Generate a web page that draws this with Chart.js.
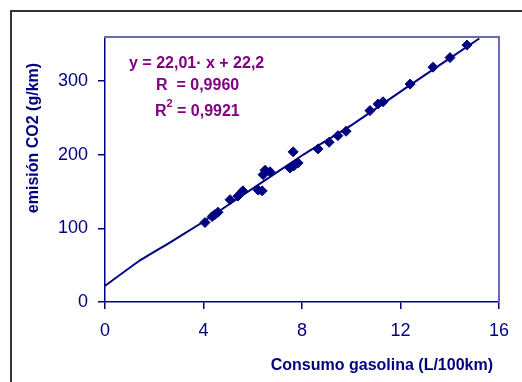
<!DOCTYPE html>
<html>
<head>
<meta charset="utf-8">
<script src="https://cdn.jsdelivr.net/npm/chart.js@4"></script>
<style>
  html, body { margin: 0; padding: 0; background: #fff; }
  #wrap { position: relative; width: 522px; height: 382px; }
  #frame { position: absolute; border-top: 2px solid #6a6ab4; border-right: 2px solid #6a6ab4; box-sizing: border-box; pointer-events: none; }
</style>
</head>
<body>
<div id="wrap"><canvas id="chart" width="522" height="382"></canvas><div id="frame"></div></div>
<script>
const consumo = [4.06, 4.35, 4.47, 4.59, 5.08, 5.40, 5.52, 5.60, 6.22, 6.38, 6.42, 6.50, 6.70,
  7.51, 7.67, 7.84, 7.64, 8.65, 9.10, 9.46, 9.79, 10.76, 11.09, 11.29, 12.39, 13.32, 14.01, 14.70]
const emision = [108, 116, 119, 122, 139, 144, 148, 151, 152, 151, 173, 179, 177,
  182, 185, 189, 204, 208, 217, 226, 232, 260, 269, 272, 296, 319, 332, 349]

// trend line
const ajusteX = [0, 1.4, 2.6, 3.9, 5.5, 8, 10, 12.4, 15.2]
const ajusteY = [22, 56, 80, 107, 143, 199, 240, 295, 358]

const xTicks = [0, 4, 8, 12, 16]
const yTicks = [0, 100, 200, 300]

const navy = '#000080'
const purple = '#800080'
const fam = '"Liberation Sans", Arial, sans-serif'

const texts = {
  id: 'texts',
  afterDraw(chart) {
    const ctx = chart.ctx
    ctx.save()
    // outer frame
    ctx.fillStyle = '#333'
    ctx.fillRect(10, 10, 2, 372)
    ctx.fillRect(10, 10, 512, 2)

    ctx.fillStyle = navy
    ctx.font = 'bold 16px ' + fam
    ctx.textAlign = 'right'
    ctx.textBaseline = 'middle'
    ctx.fillText('Consumo gasolina (L/100km)', 493, 366)
    ctx.save()
    ctx.translate(34, 138)
    ctx.rotate(-Math.PI / 2)
    ctx.textAlign = 'center'
    ctx.fillText('emisión CO2 (g/km)', 0, 0)
    ctx.restore()

    ctx.fillStyle = purple
    ctx.font = 'bold 16px ' + fam
    ctx.textAlign = 'left'
    ctx.fillText('y = 22,01· x + 22,2', 129, 64)
    ctx.fillText('R  = 0,9960', 156, 86)
    ctx.fillText('R', 155, 112)
    const rw = ctx.measureText('R').width
    ctx.font = 'bold 11px ' + fam
    ctx.fillText('2', 155 + rw, 104)
    ctx.font = 'bold 16px ' + fam
    ctx.fillText(' = 0,9921', 155 + rw + 6, 112)
    ctx.restore()
  }
}

const chart = new Chart(document.getElementById('chart'), {
  type: 'scatter',
  data: {
    datasets: [
      {
        label: 'datos',
        data: consumo.map((x, i) => ({ x: x, y: emision[i] })),
        pointStyle: 'rectRot',
        pointRadius: 5,
        backgroundColor: navy,
        borderColor: navy,
        borderWidth: 1
      },
      {
        type: 'line',
        label: 'ajuste',
        data: ajusteX.map((x, i) => ({ x: x, y: ajusteY[i] })),
        borderColor: navy,
        borderWidth: 2,
        pointRadius: 0,
        tension: 0.1,
        fill: false
      }
    ]
  },
  plugins: [texts],
  options: {
    responsive: false,
    animation: false,
    layout: { padding: { left: 0, top: 37, right: 23, bottom: 0 } },
    plugins: {
      legend: { display: false },
      tooltip: { enabled: false }
    },
    scales: {
      x: {
        type: 'linear',
        position: 'bottom',
        min: 0,
        max: 16,
        afterFit: (s) => { s.height = 80 },
        afterBuildTicks: (s) => { s.ticks = xTicks.map(v => ({ value: v })) },
        border: { color: navy, width: 1.5 },
        grid: { drawOnChartArea: false, color: navy, tickLength: 7, lineWidth: 1.5 },
        ticks: {
          color: navy,
          padding: 11,
          font: { family: fam, size: 18 }
        }
      },
      y: {
        position: 'left',
        min: 0,
        max: 360,
        afterFit: (s) => { s.width = 105 },
        afterBuildTicks: (s) => { s.ticks = yTicks.map(v => ({ value: v })) },
        border: { color: navy, width: 1.5 },
        grid: { drawOnChartArea: false, color: navy, tickLength: 7, lineWidth: 1.5 },
        ticks: {
          color: navy,
          padding: 10,
          font: { family: fam, size: 18 }
        }
      }
    }
  }
})

// light frame on top and right of the plot area
{
  const a = chart.chartArea
  const el = document.getElementById('frame')
  el.style.left = (a.left - 1) + 'px'
  el.style.top = (a.top - 1) + 'px'
  el.style.width = (a.right - a.left + 2) + 'px'
  el.style.height = (a.bottom - a.top + 1) + 'px'
}
</script>
</body>
</html>
